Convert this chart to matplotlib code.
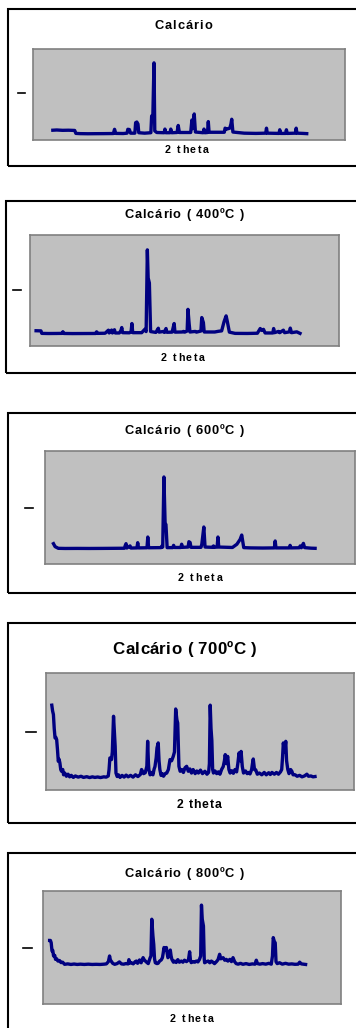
import matplotlib
matplotlib.use("Agg")
import matplotlib.pyplot as plt
from matplotlib.patches import Rectangle
from matplotlib.lines import Line2D
from matplotlib.font_manager import FontProperties, findfont, get_font

W, H, DPI = 356, 1028, 100

# XRD patterns: (2 theta in degrees, counts)
calc_raw = [
    (3.0, 430), (4.0, 440), (5.5, 425), (7.0, 430), (8.6, 420), (8.9, 290), (10.0, 280),
    (12.0, 275), (14.0, 278), (16.0, 280), (18.5, 285), (18.8, 470), (19.1, 290), (21.0, 285),
    (22.0, 300), (22.2, 470), (22.6, 460), (22.9, 300), (24.0, 300), (24.2, 760), (24.5, 790),
    (24.8, 700), (25.0, 320), (26.5, 300), (28.1, 320), (28.3, 1060), (28.6, 1000), (28.9, 3390),
    (29.1, 400), (29.6, 330), (31.5, 320), (31.7, 480), (31.9, 320), (33.0, 320), (33.2, 480),
    (33.4, 320), (34.8, 330), (35.1, 640), (35.4, 330), (38.3, 330), (38.6, 880), (38.8, 500),
    (39.2, 1145), (39.5, 350), (41.5, 320), (41.7, 480), (41.9, 320), (42.6, 330), (42.8, 810),
    (43.0, 340), (46.9, 340), (47.1, 520), (47.5, 480), (48.3, 520), (48.6, 700), (48.8, 913),
    (49.1, 350), (52.0, 300), (55.0, 290), (57.5, 300), (57.7, 520), (57.9, 300), (60.9, 290),
    (61.1, 450), (61.3, 290), (62.6, 290), (62.8, 450), (63.0, 290), (65.1, 300), (65.3, 520),
    (65.5, 300), (67.0, 290), (68.0, 280),
]

calc_400 = [
    (3.0, 550), (4.2, 545), (4.4, 455), (6.0, 450), (8.0, 452), (9.4, 455), (9.6, 515),
    (9.8, 452), (12.0, 448), (15.0, 450), (17.7, 452), (17.9, 512), (18.1, 455), (20.0, 460),
    (20.8, 570), (21.0, 470), (21.6, 575), (21.8, 470), (22.3, 585), (22.5, 470), (23.5, 470),
    (23.9, 560), (24.1, 665), (24.3, 480), (26.0, 475), (26.4, 520), (26.6, 810), (26.8, 480),
    (29.0, 480), (29.8, 605), (30.1, 520), (30.4, 3464), (30.6, 2450), (30.9, 2270), (31.2, 520),
    (32.5, 490), (33.1, 640), (33.3, 500), (34.4, 525), (34.6, 490), (35.0, 630), (35.2, 495),
    (36.5, 500), (37.0, 810), (37.2, 500), (39.0, 505), (39.3, 525), (39.6, 500), (40.2, 540),
    (40.4, 1320), (40.7, 790), (40.9, 505), (42.2, 525), (42.5, 500), (43.6, 540), (43.8, 1025),
    (44.2, 845), (44.4, 505), (47.0, 505), (47.9, 530), (48.7, 545), (49.3, 880), (49.8, 1085),
    (50.1, 880), (50.6, 500), (52.0, 455), (55.0, 452), (57.5, 460), (58.2, 630), (58.6, 560),
    (59.0, 600), (59.4, 470), (61.3, 470), (61.5, 630), (61.7, 480), (62.7, 525), (63.0, 480),
    (63.9, 570), (64.2, 480), (65.4, 510), (65.6, 645), (65.9, 480), (67.2, 510), (68.0, 455),
]

calc_600 = [
    (3.1, 720), (3.5, 615), (4.3, 555), (6.0, 550), (9.0, 552), (12.0, 550), (15.0, 552),
    (18.0, 555), (20.7, 558), (20.9, 650), (21.1, 720), (21.3, 565), (22.1, 640), (22.3, 565),
    (23.8, 570), (24.0, 755), (24.2, 570), (26.3, 575), (26.5, 955), (26.7, 575), (29.8, 580),
    (30.0, 640), (30.2, 600), (30.5, 3080), (30.8, 1400), (31.0, 1400), (31.3, 580), (32.7, 580),
    (32.9, 660), (33.1, 585), (34.7, 585), (34.9, 700), (35.1, 590), (36.5, 600), (36.7, 790),
    (37.0, 760), (37.2, 590), (39.7, 590), (39.9, 700), (40.4, 1310), (40.7, 600), (42.6, 590),
    (42.8, 640), (43.0, 590), (43.7, 600), (43.9, 955), (44.1, 600), (47.5, 585), (48.6, 700),
    (49.4, 870), (49.8, 1025), (50.3, 580), (52.0, 570), (55.0, 565), (57.9, 570), (58.1, 815),
    (58.3, 570), (61.6, 570), (61.8, 660), (62.0, 570), (64.1, 575), (64.3, 640), (64.6, 575),
    (65.1, 730), (65.4, 580), (67.0, 560), (68.0, 555),
]

calc_700 = [
    (3.2, 2900), (3.4, 2700), (3.6, 2580), (3.8, 2100), (4.0, 1780), (4.2, 1800), (4.4, 1720),
    (4.6, 1380), (4.8, 980), (5.0, 1050), (5.2, 920), (5.4, 700), (5.6, 640), (5.9, 700),
    (6.1, 520), (6.4, 580), (6.8, 470), (7.2, 540), (7.6, 450), (8.0, 500), (8.5, 430),
    (9.0, 480), (9.7, 440), (10.4, 470), (11.0, 430), (11.8, 455), (12.5, 425), (13.2, 450),
    (13.8, 430), (14.5, 445), (15.2, 425), (16.0, 450), (16.6, 440), (17.1, 480), (17.3, 700),
    (17.5, 1095), (17.9, 1040), (18.1, 1300), (18.4, 2520), (18.6, 2000), (18.8, 1500),
    (19.0, 580), (19.3, 460), (19.6, 520), (20.0, 430), (20.5, 500), (21.0, 440), (21.5, 510),
    (22.0, 450), (22.6, 500), (23.2, 440), (23.8, 520), (24.4, 460), (25.0, 530), (25.3, 700),
    (25.8, 560), (26.2, 590), (26.6, 810), (26.8, 1665), (27.0, 900), (27.1, 700), (27.4, 520),
    (27.8, 600), (28.1, 520), (28.4, 720), (28.6, 800), (28.9, 1100), (29.1, 1440), (29.4, 1610),
    (29.6, 1000), (29.8, 700), (30.1, 500), (30.4, 560), (30.7, 470), (31.1, 560), (31.5, 580),
    (31.9, 700), (32.3, 1040), (32.7, 1000), (33.1, 1150), (33.4, 1300), (33.7, 2770),
    (34.0, 2400), (34.2, 2290), (34.5, 810), (34.8, 640), (35.2, 700), (35.6, 600), (36.0, 760),
    (36.4, 810), (36.8, 640), (37.2, 720), (37.6, 580), (38.0, 700), (38.5, 560), (38.9, 650),
    (39.3, 580), (39.8, 680), (40.3, 560), (40.9, 640), (41.4, 540), (41.8, 600), (42.0, 900),
    (42.2, 2900), (42.4, 2100), (42.6, 1700), (42.8, 700), (43.0, 580), (43.4, 650), (43.8, 560),
    (44.2, 620), (44.6, 540), (45.0, 700), (45.4, 800), (45.7, 1000), (45.9, 1210), (46.2, 900),
    (46.5, 1150), (46.8, 700), (47.1, 580), (47.5, 660), (47.9, 570), (48.3, 700), (48.7, 620),
    (49.0, 900), (49.3, 1270), (49.6, 1000), (49.8, 1320), (50.1, 800), (50.4, 580), (50.9, 650),
    (51.3, 560), (51.6, 600), (52.0, 550), (52.4, 700), (52.6, 900), (52.8, 1060), (53.1, 700),
    (53.4, 690), (53.8, 540), (54.3, 580), (54.9, 520), (55.5, 600), (56.0, 520), (56.6, 590),
    (57.0, 530), (57.4, 600), (58.0, 540), (58.5, 600), (59.0, 540), (59.5, 620), (59.8, 700),
    (60.0, 1100), (60.2, 1610), (60.5, 1300), (60.8, 1665), (61.0, 1000), (61.3, 700),
    (61.6, 560), (62.0, 700), (62.3, 640), (62.6, 520), (63.1, 520), (63.6, 470), (64.2, 500),
    (64.8, 450), (65.4, 480), (66.0, 540), (66.4, 470), (67.0, 480), (67.5, 450), (68.0, 460),
]

calc_800 = [
    (3.2, 2250), (3.4, 2250), (3.6, 2170), (3.8, 1880), (4.0, 1900), (4.2, 1700), (4.5, 1720),
    (4.7, 1580), (5.0, 1600), (5.3, 1520), (5.7, 1540), (6.1, 1465), (6.5, 1480), (7.0, 1405),
    (7.8, 1420), (8.6, 1400), (9.4, 1415), (10.2, 1400), (11.0, 1410), (12.0, 1400), (13.0, 1410),
    (14.0, 1400), (15.0, 1405), (16.0, 1400), (17.0, 1410), (17.6, 1420), (18.1, 1500),
    (18.4, 1700), (18.6, 1560), (18.8, 1520), (19.2, 1440), (19.7, 1405), (20.3, 1430),
    (20.9, 1490), (21.4, 1420), (22.0, 1410), (22.5, 1430), (23.1, 1420), (23.3, 1570),
    (23.6, 1450), (23.9, 1465), (24.4, 1420), (24.9, 1500), (25.2, 1520), (25.5, 1440),
    (26.0, 1560), (26.4, 1460), (26.9, 1640), (27.2, 1560), (27.7, 1490), (28.2, 1430),
    (28.7, 1640), (28.9, 1700), (29.1, 3000), (29.4, 2400), (29.6, 2110), (29.8, 1600),
    (30.0, 1460), (30.4, 1430), (30.7, 1440), (31.1, 1520), (31.5, 1560), (31.8, 1640),
    (32.0, 1800), (32.2, 2000), (32.5, 1900), (32.8, 2000), (33.0, 1800), (33.2, 1640),
    (33.5, 1700), (33.8, 1910), (34.0, 1700), (34.2, 1580), (34.6, 1480), (34.9, 1520),
    (35.3, 1470), (35.7, 1570), (36.1, 1480), (36.6, 1520), (37.0, 1480), (37.4, 1550),
    (37.9, 1500), (38.4, 1560), (38.7, 1850), (38.9, 1560), (39.1, 1465), (39.6, 1500),
    (40.0, 1480), (40.4, 1520), (40.8, 1490), (41.2, 1580), (41.5, 1700), (41.7, 3500),
    (41.9, 3000), (42.2, 2760), (42.4, 1600), (42.5, 1460), (43.0, 1500), (43.4, 1520),
    (43.8, 1460), (44.2, 1520), (44.6, 1480), (45.0, 1430), (45.5, 1500), (45.9, 1570),
    (46.3, 1760), (46.6, 1600), (47.2, 1640), (47.6, 1550), (48.0, 1580), (48.4, 1520),
    (48.9, 1580), (49.3, 1500), (49.7, 1640), (50.1, 1500), (50.5, 1430), (51.0, 1410),
    (51.6, 1440), (52.2, 1405), (53.0, 1430), (53.8, 1400), (54.6, 1420), (55.3, 1410),
    (55.6, 1550), (55.9, 1430), (56.5, 1410), (57.2, 1430), (58.0, 1410), (58.8, 1440),
    (59.4, 1410), (59.7, 1700), (59.9, 2350), (60.2, 2200), (60.4, 2170), (60.6, 1500),
    (60.9, 1430), (61.5, 1460), (62.2, 1410), (63.0, 1440), (63.8, 1410), (64.6, 1420),
    (65.4, 1405), (66.2, 1410), (66.6, 1480), (67.0, 1420), (67.6, 1410), (68.1, 1400),
]

titles = ["Calcário", "Calcário ( 400ºC )", "Calcário ( 600ºC )",
          "Calcário ( 700ºC )", "Calcário ( 800ºC )"]
patterns = [calc_raw, calc_400, calc_600, calc_700, calc_800]
x_limits = [(-2.0, 77.8), (1.5, 77.6), (1.0, 77.9), (1.7, 77.6), (1.6, 77.0)]

# layout in pixels (left, top, right, bottom)
frames = [(8, 9, 362, 166), (6, 201, 362, 373), (8, 413, 362, 593),
          (8, 623, 362, 823), (8, 853, 362, 1040)]
plot_boxes = [(33.3, 49, 345, 140), (30, 235, 339, 346), (45, 451, 355, 564),
              (45.7, 673, 354, 790), (43.3, 891, 340.7, 1004)]
# (center x, baseline y, size pt, tracking px)
title_pos = [(183, 29.3, 9.3, 1.0), (184, 217.7, 9.3, 0.8), (184, 434.3, 9.3, 0.8),
             (184.5, 654.3, 12.2, 0.3), (184, 876.7, 9.3, 0.8)]
xlab_pos = [(186.5, 152.7, 7.7, 1.7), (182.5, 360.7, 7.7, 1.7), (200, 581.3, 7.7, 1.7),
            (199, 807.7, 8.8, 0.8), (191.5, 1021.7, 7.7, 1.7)]
ytick_pos = [(18, 25, 93), (13, 21, 290), (25, 33, 508), (26, 36, 732), (23, 32, 948)]


def tracked_text(fig, s, cx, base_y, size, track):
    # Excel-style spaced lettering: draw glyph by glyph
    fp = FontProperties(family="Liberation Sans", weight="bold", size=size)
    font = get_font(findfont(fp))
    font.set_size(size, DPI)
    widths = [font.load_char(ord(ch)).linearHoriAdvance / 65536 for ch in s]
    x = cx - (sum(widths) + track * (len(s) - 1)) / 2
    for ch, w in zip(s, widths):
        fig.text(x / W, 1 - base_y / H, ch, fontproperties=fp,
                 ha="left", va="baseline", color="black")
        x += w + track


fig = plt.figure(figsize=(W / DPI, H / DPI), dpi=DPI)
fig.patch.set_facecolor("white")

for i in range(5):
    l, t, r, b = frames[i]
    fig.add_artist(Rectangle((l / W, 1 - b / H), (r - l) / W, (b - t) / H,
                             transform=fig.transFigure, fill=False,
                             edgecolor="black", linewidth=1.5))

    l, t, r, b = plot_boxes[i]
    ax = fig.add_axes([l / W, 1 - b / H, (r - l) / W, (b - t) / H])
    ax.set_facecolor("#c0c0c0")
    for sp in ax.spines.values():
        sp.set_color("#808080")
        sp.set_linewidth(1.2)
    ax.set_xticks([])
    ax.set_yticks([])

    theta = [p[0] for p in patterns[i]]
    counts = [p[1] for p in patterns[i]]
    ax.plot(theta, counts, color="#000080", linewidth=2.4)
    ax.set_xlim(*x_limits[i])
    ax.set_ylim(0, 4000)

    tracked_text(fig, titles[i], *title_pos[i])
    tracked_text(fig, "2 theta", *xlab_pos[i])

    x0, x1, y = ytick_pos[i]
    fig.add_artist(Line2D([x0 / W, x1 / W], [1 - y / H, 1 - y / H],
                          transform=fig.transFigure, color="black", linewidth=1.2))

fig.savefig("out.png", dpi=DPI)
